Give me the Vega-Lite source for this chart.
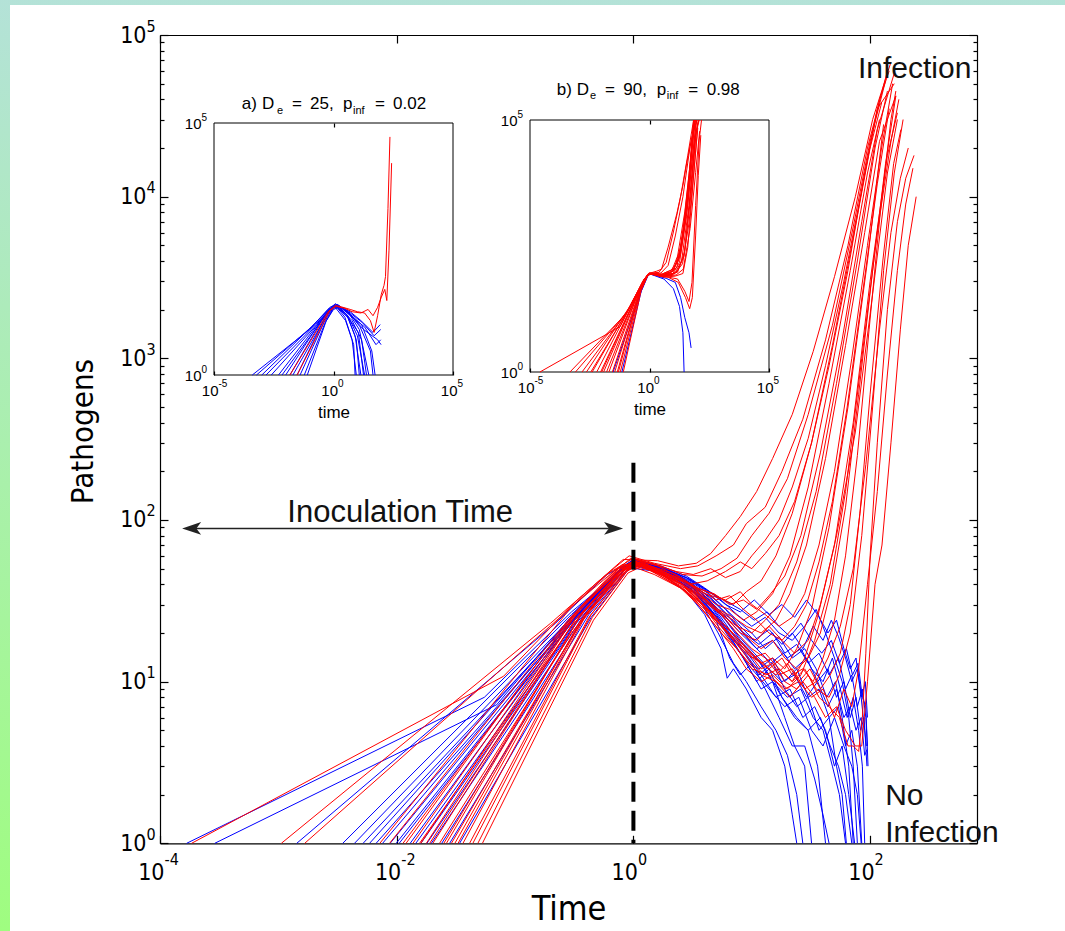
{
"$schema":"https://vega.github.io/schema/vega-lite/v6.json",
"width":1065,"height":936,
"autosize":{"type":"none"},
"padding":{"left":0,"top":-5,"right":0,"bottom":0},
"background":"white",
"view":{"fill":null,"stroke":{"gradient":"linear","x1":0,"y1":0,"x2":0,"y2":1,"stops":[{"offset":0,"color":"#b4e2d8"},{"offset":1,"color":"#9ffd80"}]},"strokeWidth":20,"strokeDash":[1065,2001,936]},
"config":{"axis":{"grid":false,"domainColor":"#000","tickColor":"#000","labelColor":"#000","titleColor":"#000","titleFontWeight":"normal","labelFlush":false,"labelOverlap":false,"labelFont":"Liberation Sans Narrow, DejaVu Sans Condensed, Liberation Sans, sans-serif","titleFont":"Liberation Sans Narrow, DejaVu Sans Condensed, Liberation Sans, sans-serif","domainWidth":1.2,"tickWidth":1.2}},
"datasets":{
"mb":[
{"c":1,"t":0.000168,"p":1},{"c":1,"t":0.055,"p":8},{"c":1,"t":0.3,"p":27},{"c":1,"t":0.85,"p":51},{"c":1,"t":1.6,"p":48},{"c":1,"t":2.6,"p":40},{"c":1,"t":3.8,"p":30},{"c":1,"t":5.2,"p":20},{"c":1,"t":7,"p":13},{"c":1,"t":9,"p":10},{"c":1,"t":12,"p":7},{"c":1,"t":16,"p":5},{"c":1,"t":20,"p":3.5},{"c":1,"t":24,"p":2},{"c":1,"t":27,"p":1},
{"c":2,"t":0.00029,"p":1},{"c":2,"t":0.07,"p":7.2},{"c":2,"t":0.35,"p":29},{"c":2,"t":0.9,"p":54},{"c":2,"t":1.7,"p":47},{"c":2,"t":2.8,"p":36},{"c":2,"t":4,"p":26},{"c":2,"t":5.5,"p":16},{"c":2,"t":6.2,"p":10.5},{"c":2,"t":7,"p":12},{"c":2,"t":9,"p":9},{"c":2,"t":12,"p":6},{"c":2,"t":15,"p":5},{"c":2,"t":19,"p":3},{"c":2,"t":22,"p":1.5},{"c":2,"t":24,"p":1},
{"c":3,"t":0.00143,"p":1},{"c":3,"t":0.22,"p":23},{"c":3,"t":0.6,"p":46},{"c":3,"t":1,"p":56},{"c":3,"t":1.9,"p":50},{"c":3,"t":3.2,"p":40},{"c":3,"t":4.6,"p":30},{"c":3,"t":6.5,"p":21},{"c":3,"t":9,"p":16},{"c":3,"t":13,"p":12},{"c":3,"t":18,"p":8},{"c":3,"t":24,"p":6},{"c":3,"t":30,"p":5},{"c":3,"t":36,"p":3},{"c":3,"t":42,"p":1},
{"c":4,"t":0.0044,"p":1},{"c":4,"t":0.35,"p":28},{"c":4,"t":0.8,"p":50},{"c":4,"t":1.1,"p":55},{"c":4,"t":2,"p":47},{"c":4,"t":3.5,"p":34},{"c":4,"t":5,"p":24},{"c":4,"t":6.5,"p":14},{"c":4,"t":8,"p":11},{"c":4,"t":10,"p":13},{"c":4,"t":13,"p":9},{"c":4,"t":17,"p":6},{"c":4,"t":22,"p":4},{"c":4,"t":28,"p":4},{"c":4,"t":34,"p":2.5},{"c":4,"t":40,"p":1.5},{"c":4,"t":45,"p":1},
{"c":5,"t":0.0052,"p":1},{"c":5,"t":0.3,"p":24},{"c":5,"t":0.75,"p":48},{"c":5,"t":1.05,"p":55},{"c":5,"t":1.8,"p":49},{"c":5,"t":3,"p":40},{"c":5,"t":4.4,"p":31},{"c":5,"t":6,"p":24},{"c":5,"t":8,"p":18},{"c":5,"t":11,"p":14},{"c":5,"t":15,"p":10},{"c":5,"t":20,"p":8},{"c":5,"t":26,"p":9},{"c":5,"t":33,"p":6},{"c":5,"t":40,"p":5},{"c":5,"t":48,"p":3},{"c":5,"t":55,"p":2},{"c":5,"t":62,"p":1},
{"c":6,"t":0.0059,"p":1},{"c":6,"t":0.32,"p":26},{"c":6,"t":0.8,"p":51},{"c":6,"t":1,"p":57},{"c":6,"t":1.7,"p":52},{"c":6,"t":2.8,"p":45},{"c":6,"t":4,"p":38},{"c":6,"t":5.5,"p":32},{"c":6,"t":7.5,"p":26},{"c":6,"t":10,"p":22},{"c":6,"t":13,"p":25},{"c":6,"t":17,"p":20},{"c":6,"t":22,"p":18},{"c":6,"t":28,"p":22},{"c":6,"t":35,"p":28},{"c":6,"t":42,"p":20},{"c":6,"t":50,"p":14},{"c":6,"t":58,"p":10},{"c":6,"t":66,"p":6},{"c":6,"t":72,"p":3},{"c":6,"t":78,"p":1},
{"c":7,"t":0.0076,"p":1},{"c":7,"t":0.36,"p":28},{"c":7,"t":0.85,"p":52},{"c":7,"t":1.1,"p":56},{"c":7,"t":1.8,"p":48},{"c":7,"t":3,"p":38},{"c":7,"t":4.5,"p":28},{"c":7,"t":6.2,"p":20},{"c":7,"t":8.5,"p":14},{"c":7,"t":11,"p":10},{"c":7,"t":14,"p":12},{"c":7,"t":18,"p":8},{"c":7,"t":23,"p":6},{"c":7,"t":30,"p":5},{"c":7,"t":38,"p":6},{"c":7,"t":46,"p":4},{"c":7,"t":54,"p":3},{"c":7,"t":62,"p":2},{"c":7,"t":70,"p":1},
{"c":8,"t":0.0099,"p":1},{"c":8,"t":0.3,"p":23},{"c":8,"t":0.75,"p":47},{"c":8,"t":1,"p":55},{"c":8,"t":1.7,"p":50},{"c":8,"t":2.8,"p":42},{"c":8,"t":4,"p":34},{"c":8,"t":5.8,"p":26},{"c":8,"t":8,"p":20},{"c":8,"t":11,"p":16},{"c":8,"t":15,"p":18},{"c":8,"t":20,"p":14},{"c":8,"t":26,"p":16},{"c":8,"t":32,"p":12},{"c":8,"t":40,"p":10},{"c":8,"t":48,"p":14},{"c":8,"t":56,"p":9},{"c":8,"t":64,"p":6},{"c":8,"t":72,"p":8},{"c":8,"t":80,"p":5},{"c":8,"t":86,"p":3},{"c":8,"t":90,"p":1},
{"c":9,"t":0.0105,"p":1},{"c":9,"t":0.34,"p":26},{"c":9,"t":0.82,"p":50},{"c":9,"t":1.08,"p":56},{"c":9,"t":1.9,"p":49},{"c":9,"t":3.2,"p":38},{"c":9,"t":4.8,"p":26},{"c":9,"t":7,"p":17},{"c":9,"t":10,"p":12},{"c":9,"t":14,"p":9},{"c":9,"t":19,"p":7},{"c":9,"t":25,"p":8},{"c":9,"t":32,"p":5},{"c":9,"t":40,"p":4},{"c":9,"t":50,"p":6},{"c":9,"t":60,"p":4},{"c":9,"t":70,"p":3},{"c":9,"t":78,"p":2},{"c":9,"t":84,"p":1},
{"c":10,"t":0.0145,"p":1},{"c":10,"t":0.36,"p":26},{"c":10,"t":0.82,"p":50},{"c":10,"t":1.05,"p":55},{"c":10,"t":1.8,"p":50},{"c":10,"t":3,"p":43},{"c":10,"t":4.4,"p":36},{"c":10,"t":6,"p":30},{"c":10,"t":8,"p":27},{"c":10,"t":10.5,"p":32},{"c":10,"t":14,"p":26},{"c":10,"t":18,"p":30},{"c":10,"t":23,"p":25},{"c":10,"t":29,"p":32},{"c":10,"t":36,"p":26},{"c":10,"t":44,"p":20},{"c":10,"t":52,"p":24},{"c":10,"t":60,"p":16},{"c":10,"t":68,"p":12},{"c":10,"t":76,"p":14},{"c":10,"t":84,"p":8},{"c":10,"t":90,"p":5},{"c":10,"t":93,"p":4},
{"c":11,"t":0.016,"p":1},{"c":11,"t":0.38,"p":27},{"c":11,"t":0.85,"p":50},{"c":11,"t":1.1,"p":54},{"c":11,"t":1.9,"p":46},{"c":11,"t":3.2,"p":36},{"c":11,"t":4.6,"p":27},{"c":11,"t":6.4,"p":21},{"c":11,"t":8.6,"p":16},{"c":11,"t":11.5,"p":12},{"c":11,"t":15,"p":14},{"c":11,"t":19,"p":10},{"c":11,"t":24,"p":12},{"c":11,"t":30,"p":8},{"c":11,"t":37,"p":9},{"c":11,"t":45,"p":6},{"c":11,"t":54,"p":7},{"c":11,"t":62,"p":4},{"c":11,"t":70,"p":5},{"c":11,"t":78,"p":3},{"c":11,"t":85,"p":1},
{"c":12,"t":0.0196,"p":1},{"c":12,"t":0.4,"p":27},{"c":12,"t":0.88,"p":51},{"c":12,"t":1.12,"p":55},{"c":12,"t":2,"p":47},{"c":12,"t":3.3,"p":37},{"c":12,"t":4.8,"p":28},{"c":12,"t":6.5,"p":20},{"c":12,"t":8.8,"p":15},{"c":12,"t":12,"p":11},{"c":12,"t":16,"p":8},{"c":12,"t":21,"p":9},{"c":12,"t":27,"p":6},{"c":12,"t":34,"p":7},{"c":12,"t":42,"p":5},{"c":12,"t":50,"p":3},{"c":12,"t":58,"p":4},{"c":12,"t":66,"p":2},{"c":12,"t":74,"p":1},
{"c":13,"t":0.028,"p":1},{"c":13,"t":0.42,"p":26},{"c":13,"t":0.9,"p":50},{"c":13,"t":1.15,"p":54},{"c":13,"t":2,"p":48},{"c":13,"t":3.2,"p":40},{"c":13,"t":4.6,"p":32},{"c":13,"t":6.4,"p":25},{"c":13,"t":8.6,"p":20},{"c":13,"t":11.5,"p":17},{"c":13,"t":15,"p":20},{"c":13,"t":19,"p":15},{"c":13,"t":24,"p":17},{"c":13,"t":30,"p":13},{"c":13,"t":37,"p":15},{"c":13,"t":45,"p":11},{"c":13,"t":54,"p":14},{"c":13,"t":62,"p":9},{"c":13,"t":70,"p":11},{"c":13,"t":78,"p":7},{"c":13,"t":86,"p":9},{"c":13,"t":92,"p":6},{"c":13,"t":95,"p":4},
{"c":14,"t":0.0088,"p":1},{"c":14,"t":0.32,"p":25},{"c":14,"t":0.78,"p":49},{"c":14,"t":1.02,"p":55},{"c":14,"t":1.7,"p":51},{"c":14,"t":2.8,"p":44},{"c":14,"t":4,"p":37},{"c":14,"t":5.5,"p":30},{"c":14,"t":7.5,"p":24},{"c":14,"t":10,"p":20},{"c":14,"t":13,"p":16},{"c":14,"t":17,"p":19},{"c":14,"t":22,"p":14},{"c":14,"t":28,"p":16},{"c":14,"t":35,"p":12},{"c":14,"t":43,"p":8},{"c":14,"t":51,"p":10},{"c":14,"t":58,"p":6},{"c":14,"t":66,"p":3},{"c":14,"t":72,"p":1},
{"c":15,"t":0.013,"p":1},{"c":15,"t":0.35,"p":27},{"c":15,"t":0.8,"p":51},{"c":15,"t":1.1,"p":56},{"c":15,"t":1.8,"p":49},{"c":15,"t":2.9,"p":41},{"c":15,"t":4.2,"p":33},{"c":15,"t":5.8,"p":25},{"c":15,"t":7.8,"p":19},{"c":15,"t":10.5,"p":15},{"c":15,"t":14,"p":12},{"c":15,"t":18,"p":10},{"c":15,"t":23,"p":11},{"c":15,"t":29,"p":8},{"c":15,"t":36,"p":10},{"c":15,"t":44,"p":7},{"c":15,"t":52,"p":9},{"c":15,"t":60,"p":6},{"c":15,"t":68,"p":7},{"c":15,"t":76,"p":5},{"c":15,"t":84,"p":6},{"c":15,"t":90,"p":3.5},{"c":15,"t":94,"p":3.8},
{"c":16,"t":0.018,"p":1},{"c":16,"t":0.33,"p":23},{"c":16,"t":0.77,"p":48},{"c":16,"t":1.03,"p":55},{"c":16,"t":1.8,"p":50},{"c":16,"t":3,"p":42},{"c":16,"t":4.3,"p":35},{"c":16,"t":6,"p":28},{"c":16,"t":8,"p":22},{"c":16,"t":10.5,"p":18},{"c":16,"t":14,"p":21},{"c":16,"t":18,"p":17},{"c":16,"t":22,"p":20},{"c":16,"t":27,"p":16},{"c":16,"t":33,"p":22},{"c":16,"t":40,"p":18},{"c":16,"t":47,"p":24},{"c":16,"t":54,"p":19},{"c":16,"t":62,"p":14},{"c":16,"t":70,"p":10},{"c":16,"t":78,"p":12},{"c":16,"t":85,"p":8},{"c":16,"t":91,"p":10},{"c":16,"t":95,"p":6},
{"c":17,"t":0.0035,"p":1},{"c":17,"t":0.3,"p":26},{"c":17,"t":0.78,"p":50},{"c":17,"t":1.05,"p":56},{"c":17,"t":1.9,"p":49},{"c":17,"t":3.2,"p":38},{"c":17,"t":4.7,"p":28},{"c":17,"t":6.6,"p":19},{"c":17,"t":9,"p":13},{"c":17,"t":12,"p":9},{"c":17,"t":15,"p":10},{"c":17,"t":19,"p":6},{"c":17,"t":23,"p":4},{"c":17,"t":28,"p":3},{"c":17,"t":32,"p":1},
{"c":18,"t":0.024,"p":1},{"c":18,"t":0.4,"p":26},{"c":18,"t":0.86,"p":50},{"c":18,"t":1.1,"p":55},{"c":18,"t":1.9,"p":48},{"c":18,"t":3.1,"p":40},{"c":18,"t":4.5,"p":33},{"c":18,"t":6.2,"p":26},{"c":18,"t":8.4,"p":20},{"c":18,"t":11,"p":16},{"c":18,"t":14.5,"p":13},{"c":18,"t":18.5,"p":15},{"c":18,"t":23,"p":12},{"c":18,"t":29,"p":14},{"c":18,"t":36,"p":10},{"c":18,"t":44,"p":12},{"c":18,"t":52,"p":8},{"c":18,"t":60,"p":10},{"c":18,"t":68,"p":6},{"c":18,"t":76,"p":8},{"c":18,"t":83,"p":5},{"c":18,"t":89,"p":6},{"c":18,"t":94,"p":3},
{"c":19,"t":0.0067,"p":1},{"c":19,"t":0.28,"p":22},{"c":19,"t":0.72,"p":47},{"c":19,"t":0.98,"p":56},{"c":19,"t":1.7,"p":51},{"c":19,"t":2.8,"p":44},{"c":19,"t":4.1,"p":37},{"c":19,"t":5.8,"p":32},{"c":19,"t":8,"p":28},{"c":19,"t":10.5,"p":24},{"c":19,"t":13.5,"p":27},{"c":19,"t":17,"p":22},{"c":19,"t":21,"p":19},{"c":19,"t":26,"p":23},{"c":19,"t":32,"p":18},{"c":19,"t":39,"p":15},{"c":19,"t":47,"p":18},{"c":19,"t":55,"p":13},{"c":19,"t":63,"p":16},{"c":19,"t":71,"p":11},{"c":19,"t":79,"p":13},{"c":19,"t":86,"p":8},{"c":19,"t":92,"p":7},{"c":19,"t":96,"p":3},
{"c":20,"t":0.034,"p":1},{"c":20,"t":0.44,"p":25},{"c":20,"t":0.9,"p":49},{"c":20,"t":1.15,"p":53},{"c":20,"t":2,"p":46},{"c":20,"t":3.3,"p":36},{"c":20,"t":4.7,"p":27},{"c":20,"t":6.4,"p":20},{"c":20,"t":8.6,"p":15},{"c":20,"t":11.5,"p":11},{"c":20,"t":15,"p":13},{"c":20,"t":19,"p":9},{"c":20,"t":24,"p":7},{"c":20,"t":30,"p":8},{"c":20,"t":37,"p":5},{"c":20,"t":45,"p":6},{"c":20,"t":52,"p":3},{"c":20,"t":58,"p":2},{"c":20,"t":63,"p":1}
],
"mr":[
{"c":1,"t":0.000185,"p":1},{"c":1,"t":0.08,"p":10.8},{"c":1,"t":0.32,"p":31},{"c":1,"t":0.82,"p":57},{"c":1,"t":1.6,"p":56},{"c":1,"t":2.4,"p":52},{"c":1,"t":3.4,"p":54},{"c":1,"t":4.5,"p":62},{"c":1,"t":6,"p":80},{"c":1,"t":8,"p":105},{"c":1,"t":11,"p":150},{"c":1,"t":15,"p":240},{"c":1,"t":22,"p":450},{"c":1,"t":33,"p":1100},{"c":1,"t":50,"p":3200},{"c":1,"t":75,"p":10000},{"c":1,"t":105,"p":30000},{"c":1,"t":150,"p":68000},
{"c":2,"t":0.00106,"p":1},{"c":2,"t":0.2,"p":23},{"c":2,"t":0.55,"p":44},{"c":2,"t":0.92,"p":60},{"c":2,"t":1.5,"p":54},{"c":2,"t":2.5,"p":50},{"c":2,"t":3.5,"p":52},{"c":2,"t":5,"p":60},{"c":2,"t":7,"p":70},{"c":2,"t":9,"p":95},{"c":2,"t":13,"p":120},{"c":2,"t":18,"p":200},{"c":2,"t":27,"p":420},{"c":2,"t":42,"p":1300},{"c":2,"t":65,"p":5000},{"c":2,"t":95,"p":20000},{"c":2,"t":140,"p":60000},
{"c":3,"t":0.00167,"p":1},{"c":3,"t":0.24,"p":25},{"c":3,"t":0.62,"p":47},{"c":3,"t":1,"p":58},{"c":3,"t":1.7,"p":52},{"c":3,"t":2.6,"p":46},{"c":3,"t":3.8,"p":45},{"c":3,"t":5.5,"p":50},{"c":3,"t":7.5,"p":58},{"c":3,"t":10,"p":80},{"c":3,"t":14,"p":110},{"c":3,"t":20,"p":180},{"c":3,"t":30,"p":450},{"c":3,"t":48,"p":1600},{"c":3,"t":72,"p":6500},{"c":3,"t":100,"p":22000},{"c":3,"t":135,"p":52000},
{"c":4,"t":0.0072,"p":1},{"c":4,"t":0.3,"p":29},{"c":4,"t":0.75,"p":51},{"c":4,"t":1.1,"p":56},{"c":4,"t":1.6,"p":52},{"c":4,"t":2.5,"p":44},{"c":4,"t":3.5,"p":38},{"c":4,"t":5,"p":34},{"c":4,"t":7,"p":30},{"c":4,"t":9,"p":36},{"c":4,"t":12,"p":42},{"c":4,"t":16,"p":60},{"c":4,"t":22,"p":110},{"c":4,"t":32,"p":300},{"c":4,"t":48,"p":1200},{"c":4,"t":70,"p":5000},{"c":4,"t":100,"p":20000},{"c":4,"t":125,"p":38000},
{"c":5,"t":0.0087,"p":1},{"c":5,"t":0.28,"p":24},{"c":5,"t":0.7,"p":49},{"c":5,"t":1,"p":55},{"c":5,"t":1.5,"p":50},{"c":5,"t":2.4,"p":44},{"c":5,"t":3.6,"p":36},{"c":5,"t":5,"p":30},{"c":5,"t":6.5,"p":28},{"c":5,"t":8.5,"p":24},{"c":5,"t":11,"p":27},{"c":5,"t":15,"p":35},{"c":5,"t":21,"p":60},{"c":5,"t":30,"p":160},{"c":5,"t":45,"p":700},{"c":5,"t":68,"p":3500},{"c":5,"t":95,"p":14000},{"c":5,"t":120,"p":30000},
{"c":6,"t":0.0113,"p":1},{"c":6,"t":0.3,"p":25},{"c":6,"t":0.8,"p":53},{"c":6,"t":1.2,"p":52},{"c":6,"t":1.6,"p":48},{"c":6,"t":2.6,"p":40},{"c":6,"t":4,"p":32},{"c":6,"t":5.5,"p":26},{"c":6,"t":7.5,"p":22},{"c":6,"t":10,"p":20},{"c":6,"t":13,"p":24},{"c":6,"t":17,"p":30},{"c":6,"t":24,"p":55},{"c":6,"t":35,"p":150},{"c":6,"t":52,"p":700},{"c":6,"t":78,"p":4000},{"c":6,"t":110,"p":20000},{"c":6,"t":140,"p":45000},
{"c":7,"t":0.0137,"p":1},{"c":7,"t":0.33,"p":27},{"c":7,"t":0.78,"p":50},{"c":7,"t":1.05,"p":57},{"c":7,"t":1.4,"p":52},{"c":7,"t":2.3,"p":46},{"c":7,"t":3.4,"p":38},{"c":7,"t":4.8,"p":35},{"c":7,"t":6.5,"p":30},{"c":7,"t":8.5,"p":32},{"c":7,"t":11,"p":28},{"c":7,"t":14,"p":34},{"c":7,"t":19,"p":45},{"c":7,"t":26,"p":80},{"c":7,"t":38,"p":260},{"c":7,"t":58,"p":1300},{"c":7,"t":85,"p":7000},{"c":7,"t":115,"p":26000},{"c":7,"t":160,"p":58000},
{"c":8,"t":0.0156,"p":1},{"c":8,"t":0.3,"p":22},{"c":8,"t":0.72,"p":46},{"c":8,"t":0.95,"p":54},{"c":8,"t":1.5,"p":50},{"c":8,"t":2.5,"p":42},{"c":8,"t":3.8,"p":34},{"c":8,"t":5.2,"p":28},{"c":8,"t":7,"p":25},{"c":8,"t":9,"p":22},{"c":8,"t":12,"p":20},{"c":8,"t":16,"p":24},{"c":8,"t":21,"p":35},{"c":8,"t":29,"p":70},{"c":8,"t":42,"p":240},{"c":8,"t":62,"p":1200},{"c":8,"t":90,"p":6000},{"c":8,"t":120,"p":22000},{"c":8,"t":165,"p":42000},
{"c":9,"t":0.0178,"p":1},{"c":9,"t":0.35,"p":28},{"c":9,"t":0.8,"p":50},{"c":9,"t":1.1,"p":55},{"c":9,"t":1.5,"p":50},{"c":9,"t":2.4,"p":42},{"c":9,"t":3.5,"p":33},{"c":9,"t":5,"p":24},{"c":9,"t":7,"p":18},{"c":9,"t":9,"p":15},{"c":9,"t":12,"p":13},{"c":9,"t":15,"p":14},{"c":9,"t":19,"p":12},{"c":9,"t":24,"p":16},{"c":9,"t":32,"p":28},{"c":9,"t":45,"p":90},{"c":9,"t":65,"p":500},{"c":9,"t":95,"p":4000},{"c":9,"t":130,"p":28000},
{"c":10,"t":0.0202,"p":1},{"c":10,"t":0.32,"p":24},{"c":10,"t":0.75,"p":47},{"c":10,"t":1,"p":56},{"c":10,"t":1.6,"p":48},{"c":10,"t":2.6,"p":40},{"c":10,"t":3.8,"p":30},{"c":10,"t":5.5,"p":22},{"c":10,"t":7.5,"p":17},{"c":10,"t":10,"p":13},{"c":10,"t":13,"p":11},{"c":10,"t":17,"p":12},{"c":10,"t":22,"p":10},{"c":10,"t":28,"p":14},{"c":10,"t":36,"p":25},{"c":10,"t":50,"p":70},{"c":10,"t":72,"p":400},{"c":10,"t":100,"p":3000},{"c":10,"t":140,"p":18000},{"c":10,"t":170,"p":33000},
{"c":11,"t":0.023,"p":1},{"c":11,"t":0.3,"p":20},{"c":11,"t":0.7,"p":44},{"c":11,"t":0.95,"p":52},{"c":11,"t":1.5,"p":46},{"c":11,"t":2.5,"p":38},{"c":11,"t":3.5,"p":30},{"c":11,"t":5,"p":22},{"c":11,"t":7,"p":16},{"c":11,"t":9,"p":12},{"c":11,"t":12,"p":10},{"c":11,"t":15,"p":11},{"c":11,"t":20,"p":9},{"c":11,"t":26,"p":11},{"c":11,"t":34,"p":18},{"c":11,"t":46,"p":40},{"c":11,"t":62,"p":150},{"c":11,"t":85,"p":1000},{"c":11,"t":115,"p":6000},{"c":11,"t":150,"p":22000},{"c":11,"t":175,"p":40000},
{"c":12,"t":0.0263,"p":1},{"c":12,"t":0.36,"p":26},{"c":12,"t":0.82,"p":50},{"c":12,"t":1.1,"p":54},{"c":12,"t":1.7,"p":47},{"c":12,"t":2.8,"p":41},{"c":12,"t":4,"p":35},{"c":12,"t":6,"p":32},{"c":12,"t":8,"p":36},{"c":12,"t":10,"p":30},{"c":12,"t":13,"p":26},{"c":12,"t":17,"p":22},{"c":12,"t":22,"p":25},{"c":12,"t":28,"p":35},{"c":12,"t":37,"p":70},{"c":12,"t":50,"p":200},{"c":12,"t":70,"p":1000},{"c":12,"t":95,"p":5000},{"c":12,"t":125,"p":20000},{"c":12,"t":155,"p":50000},
{"c":13,"t":0.029,"p":1},{"c":13,"t":0.34,"p":22},{"c":13,"t":0.76,"p":45},{"c":13,"t":1,"p":52},{"c":13,"t":1.5,"p":48},{"c":13,"t":2.2,"p":45},{"c":13,"t":3,"p":40},{"c":13,"t":4.2,"p":42},{"c":13,"t":6,"p":48},{"c":13,"t":8,"p":55},{"c":13,"t":10,"p":50},{"c":13,"t":13,"p":62},{"c":13,"t":17,"p":80},{"c":13,"t":23,"p":130},{"c":13,"t":32,"p":300},{"c":13,"t":45,"p":900},{"c":13,"t":65,"p":3500},{"c":13,"t":90,"p":14000},{"c":13,"t":120,"p":40000},{"c":13,"t":145,"p":60000},
{"c":14,"t":0.033,"p":1},{"c":14,"t":0.38,"p":25},{"c":14,"t":0.85,"p":50},{"c":14,"t":1.15,"p":55},{"c":14,"t":1.8,"p":48},{"c":14,"t":3,"p":40},{"c":14,"t":4.5,"p":30},{"c":14,"t":6,"p":25},{"c":14,"t":8,"p":20},{"c":14,"t":11,"p":18},{"c":14,"t":14,"p":22},{"c":14,"t":18,"p":18},{"c":14,"t":23,"p":15},{"c":14,"t":30,"p":18},{"c":14,"t":38,"p":30},{"c":14,"t":52,"p":80},{"c":14,"t":75,"p":350},{"c":14,"t":105,"p":2500},{"c":14,"t":140,"p":14000},{"c":14,"t":170,"p":30000},
{"c":15,"t":0.0363,"p":1},{"c":15,"t":0.4,"p":26},{"c":15,"t":0.85,"p":48},{"c":15,"t":1.1,"p":53},{"c":15,"t":1.6,"p":47},{"c":15,"t":2.6,"p":40},{"c":15,"t":3.8,"p":32},{"c":15,"t":5.5,"p":26},{"c":15,"t":7.5,"p":20},{"c":15,"t":10,"p":16},{"c":15,"t":13,"p":14},{"c":15,"t":17,"p":11},{"c":15,"t":22,"p":12},{"c":15,"t":28,"p":9},{"c":15,"t":35,"p":10},{"c":15,"t":44,"p":14},{"c":15,"t":56,"p":22},{"c":15,"t":72,"p":50},{"c":15,"t":92,"p":220},{"c":15,"t":120,"p":1500},{"c":15,"t":150,"p":6000},{"c":15,"t":180,"p":13000},{"c":15,"t":210,"p":20000},
{"c":16,"t":0.0413,"p":1},{"c":16,"t":0.42,"p":25},{"c":16,"t":0.9,"p":50},{"c":16,"t":1.2,"p":52},{"c":16,"t":1.8,"p":44},{"c":16,"t":2.8,"p":36},{"c":16,"t":4,"p":28},{"c":16,"t":5.5,"p":22},{"c":16,"t":7.5,"p":18},{"c":16,"t":10,"p":14},{"c":16,"t":13,"p":15},{"c":16,"t":17,"p":12},{"c":16,"t":22,"p":10},{"c":16,"t":28,"p":12},{"c":16,"t":35,"p":9},{"c":16,"t":45,"p":8},{"c":16,"t":55,"p":11},{"c":16,"t":68,"p":20},{"c":16,"t":85,"p":80},{"c":16,"t":105,"p":500},{"c":16,"t":130,"p":3500},{"c":16,"t":160,"p":14000},{"c":16,"t":190,"p":30000},
{"c":17,"t":0.0485,"p":1},{"c":17,"t":0.45,"p":25},{"c":17,"t":0.88,"p":48},{"c":17,"t":1.15,"p":54},{"c":17,"t":1.7,"p":46},{"c":17,"t":2.6,"p":38},{"c":17,"t":3.8,"p":30},{"c":17,"t":5.2,"p":22},{"c":17,"t":7,"p":17},{"c":17,"t":9.5,"p":13},{"c":17,"t":12,"p":11},{"c":17,"t":16,"p":10},{"c":17,"t":21,"p":8},{"c":17,"t":27,"p":10},{"c":17,"t":34,"p":8},{"c":17,"t":42,"p":6},{"c":17,"t":52,"p":7},{"c":17,"t":62,"p":5},{"c":17,"t":75,"p":4},{"c":17,"t":85,"p":4},{"c":17,"t":95,"p":10},{"c":17,"t":110,"p":40},{"c":17,"t":126,"p":70},{"c":17,"t":150,"p":300},{"c":17,"t":180,"p":1500},{"c":17,"t":210,"p":5000},{"c":17,"t":245,"p":10000},
{"c":18,"t":0.053,"p":1},{"c":18,"t":0.46,"p":24},{"c":18,"t":0.9,"p":47},{"c":18,"t":1.2,"p":52},{"c":18,"t":1.8,"p":45},{"c":18,"t":2.8,"p":36},{"c":18,"t":4,"p":27},{"c":18,"t":5.5,"p":20},{"c":18,"t":7.5,"p":16},{"c":18,"t":10,"p":12},{"c":18,"t":14,"p":11},{"c":18,"t":19,"p":9},{"c":18,"t":25,"p":10},{"c":18,"t":32,"p":8},{"c":18,"t":40,"p":9},{"c":18,"t":50,"p":6},{"c":18,"t":60,"p":9},{"c":18,"t":70,"p":7},{"c":18,"t":80,"p":12},{"c":18,"t":95,"p":40},{"c":18,"t":115,"p":150},{"c":18,"t":140,"p":800},{"c":18,"t":170,"p":3500},{"c":18,"t":200,"p":9000},{"c":18,"t":230,"p":15000},
{"c":19,"t":0.012,"p":1},{"c":19,"t":0.26,"p":22},{"c":19,"t":0.7,"p":48},{"c":19,"t":0.95,"p":58},{"c":19,"t":1.5,"p":53},{"c":19,"t":2.3,"p":48},{"c":19,"t":3.2,"p":46},{"c":19,"t":4.5,"p":50},{"c":19,"t":6,"p":44},{"c":19,"t":8,"p":48},{"c":19,"t":10,"p":60},{"c":19,"t":13,"p":75},{"c":19,"t":17,"p":100},{"c":19,"t":22,"p":160},{"c":19,"t":30,"p":320},{"c":19,"t":42,"p":900},{"c":19,"t":60,"p":3000},{"c":19,"t":85,"p":11000},{"c":19,"t":115,"p":35000},{"c":19,"t":160,"p":50000},
{"c":20,"t":0.016,"p":1},{"c":20,"t":0.3,"p":24},{"c":20,"t":0.72,"p":48},{"c":20,"t":1,"p":56},{"c":20,"t":1.6,"p":50},{"c":20,"t":2.5,"p":43},{"c":20,"t":3.6,"p":37},{"c":20,"t":5,"p":32},{"c":20,"t":6.5,"p":34},{"c":20,"t":8.5,"p":28},{"c":20,"t":11,"p":24},{"c":20,"t":14,"p":20},{"c":20,"t":18,"p":18},{"c":20,"t":23,"p":22},{"c":20,"t":29,"p":30},{"c":20,"t":37,"p":55},{"c":20,"t":48,"p":130},{"c":20,"t":64,"p":500},{"c":20,"t":88,"p":2800},{"c":20,"t":115,"p":12000},{"c":20,"t":145,"p":35000},
{"c":21,"t":0.019,"p":1},{"c":21,"t":0.32,"p":24},{"c":21,"t":0.74,"p":47},{"c":21,"t":1,"p":54},{"c":21,"t":1.5,"p":49},{"c":21,"t":2.4,"p":41},{"c":21,"t":3.5,"p":35},{"c":21,"t":5,"p":28},{"c":21,"t":7,"p":24},{"c":21,"t":9,"p":19},{"c":21,"t":12,"p":16},{"c":21,"t":15,"p":18},{"c":21,"t":19,"p":14},{"c":21,"t":24,"p":12},{"c":21,"t":30,"p":14},{"c":21,"t":38,"p":20},{"c":21,"t":48,"p":40},{"c":21,"t":62,"p":120},{"c":21,"t":80,"p":600},{"c":21,"t":105,"p":3500},{"c":21,"t":135,"p":16000},{"c":21,"t":165,"p":42000},
{"c":22,"t":0.025,"p":1},{"c":22,"t":0.35,"p":25},{"c":22,"t":0.78,"p":48},{"c":22,"t":1.05,"p":54},{"c":22,"t":1.6,"p":46},{"c":22,"t":2.5,"p":38},{"c":22,"t":3.6,"p":31},{"c":22,"t":5,"p":25},{"c":22,"t":6.8,"p":20},{"c":22,"t":9,"p":16},{"c":22,"t":12,"p":13},{"c":22,"t":16,"p":11},{"c":22,"t":20,"p":13},{"c":22,"t":25,"p":10},{"c":22,"t":31,"p":12},{"c":22,"t":38,"p":9},{"c":22,"t":46,"p":11},{"c":22,"t":56,"p":15},{"c":22,"t":68,"p":30},{"c":22,"t":82,"p":110},{"c":22,"t":100,"p":600},{"c":22,"t":128,"p":4000},{"c":22,"t":158,"p":16000},{"c":22,"t":182,"p":26000},
{"c":23,"t":0.031,"p":1},{"c":23,"t":0.37,"p":25},{"c":23,"t":0.8,"p":48},{"c":23,"t":1.05,"p":53},{"c":23,"t":1.6,"p":47},{"c":23,"t":2.5,"p":40},{"c":23,"t":3.6,"p":32},{"c":23,"t":5,"p":25},{"c":23,"t":6.5,"p":21},{"c":23,"t":8.5,"p":17},{"c":23,"t":11,"p":14},{"c":23,"t":14,"p":12},{"c":23,"t":18,"p":14},{"c":23,"t":22,"p":11},{"c":23,"t":27,"p":12},{"c":23,"t":33,"p":10},{"c":23,"t":40,"p":14},{"c":23,"t":50,"p":24},{"c":23,"t":62,"p":60},{"c":23,"t":78,"p":250},{"c":23,"t":98,"p":1500},{"c":23,"t":122,"p":8000},{"c":23,"t":150,"p":30000},{"c":23,"t":165,"p":45000},
{"c":24,"t":0.044,"p":1},{"c":24,"t":0.44,"p":26},{"c":24,"t":0.88,"p":49},{"c":24,"t":1.15,"p":53},{"c":24,"t":1.7,"p":46},{"c":24,"t":2.7,"p":38},{"c":24,"t":3.9,"p":30},{"c":24,"t":5.4,"p":23},{"c":24,"t":7.2,"p":18},{"c":24,"t":9.5,"p":15},{"c":24,"t":12,"p":12},{"c":24,"t":15,"p":13},{"c":24,"t":19,"p":10},{"c":24,"t":24,"p":9},{"c":24,"t":30,"p":11},{"c":24,"t":37,"p":8},{"c":24,"t":45,"p":7},{"c":24,"t":55,"p":6},{"c":24,"t":65,"p":4},{"c":24,"t":72,"p":4},{"c":24,"t":80,"p":3.7},{"c":24,"t":86,"p":6},{"c":24,"t":92,"p":15},{"c":24,"t":100,"p":60},{"c":24,"t":115,"p":300},{"c":24,"t":140,"p":2000},{"c":24,"t":170,"p":7000},{"c":24,"t":200,"p":13000},{"c":24,"t":235,"p":18000}
],
"ab":[
{"c":1,"t":0.0004,"p":1},{"c":1,"t":0.1,"p":8},{"c":1,"t":0.6,"p":20},{"c":1,"t":1.2,"p":24},{"c":1,"t":3,"p":14},{"c":1,"t":6,"p":5},{"c":1,"t":9,"p":1},
{"c":2,"t":0.001,"p":1},{"c":2,"t":0.15,"p":10},{"c":2,"t":0.7,"p":22},{"c":2,"t":1.3,"p":25},{"c":2,"t":3.5,"p":16},{"c":2,"t":8,"p":6},{"c":2,"t":14,"p":1},
{"c":3,"t":0.0025,"p":1},{"c":3,"t":0.2,"p":10},{"c":3,"t":0.8,"p":22},{"c":3,"t":1.2,"p":26},{"c":3,"t":4,"p":15},{"c":3,"t":10,"p":6},{"c":3,"t":20,"p":1},
{"c":4,"t":0.005,"p":1},{"c":4,"t":0.25,"p":11},{"c":4,"t":0.8,"p":21},{"c":4,"t":1.4,"p":24},{"c":4,"t":4,"p":18},{"c":4,"t":12,"p":8},{"c":4,"t":30,"p":1},
{"c":5,"t":0.01,"p":1},{"c":5,"t":0.3,"p":12},{"c":5,"t":0.9,"p":23},{"c":5,"t":1.5,"p":25},{"c":5,"t":5,"p":16},{"c":5,"t":15,"p":10},{"c":5,"t":40,"p":3},{"c":5,"t":55,"p":1},
{"c":6,"t":0.02,"p":1},{"c":6,"t":0.35,"p":11},{"c":6,"t":0.85,"p":21},{"c":6,"t":1.3,"p":23},{"c":6,"t":4.5,"p":13},{"c":6,"t":11,"p":7},{"c":6,"t":18,"p":1},
{"c":7,"t":0.04,"p":1},{"c":7,"t":0.4,"p":11},{"c":7,"t":1,"p":22},{"c":7,"t":1.6,"p":24},{"c":7,"t":5,"p":17},{"c":7,"t":16,"p":11},{"c":7,"t":50,"p":6},{"c":7,"t":95,"p":8},
{"c":8,"t":0.08,"p":1},{"c":8,"t":0.5,"p":12},{"c":8,"t":1,"p":21},{"c":8,"t":1.8,"p":23},{"c":8,"t":6,"p":14},{"c":8,"t":20,"p":9},{"c":8,"t":60,"p":4},{"c":8,"t":95,"p":5},
{"c":9,"t":0.0015,"p":1},{"c":9,"t":0.18,"p":10},{"c":9,"t":0.75,"p":21},{"c":9,"t":1.25,"p":24},{"c":9,"t":3.8,"p":15},{"c":9,"t":9,"p":5},{"c":9,"t":12,"p":1},
{"c":10,"t":0.007,"p":1},{"c":10,"t":0.28,"p":11},{"c":10,"t":0.85,"p":22},{"c":10,"t":1.4,"p":25},{"c":10,"t":4.5,"p":17},{"c":10,"t":13,"p":9},{"c":10,"t":35,"p":3},{"c":10,"t":45,"p":1},
{"c":11,"t":0.03,"p":1},{"c":11,"t":0.38,"p":12},{"c":11,"t":0.95,"p":22},{"c":11,"t":1.5,"p":24},{"c":11,"t":5.5,"p":15},{"c":11,"t":18,"p":8},{"c":11,"t":70,"p":5},{"c":11,"t":98,"p":4},
{"c":12,"t":0.06,"p":1},{"c":12,"t":0.45,"p":11},{"c":12,"t":1,"p":20},{"c":12,"t":1.7,"p":22},{"c":12,"t":6,"p":12},{"c":12,"t":15,"p":5},{"c":12,"t":24,"p":1},
{"c":13,"t":0.0006,"p":1},{"c":13,"t":0.12,"p":9},{"c":13,"t":0.65,"p":20},{"c":13,"t":1.1,"p":23},{"c":13,"t":3.2,"p":12},{"c":13,"t":7,"p":4},{"c":13,"t":8,"p":1},
{"c":14,"t":0.015,"p":1},{"c":14,"t":0.32,"p":12},{"c":14,"t":0.9,"p":22},{"c":14,"t":1.45,"p":24},{"c":14,"t":5,"p":18},{"c":14,"t":14,"p":12},{"c":14,"t":45,"p":7},{"c":14,"t":90,"p":10}
],
"ar":[
{"c":1,"t":0.015,"p":1},{"c":1,"t":0.6,"p":18},{"c":1,"t":1.2,"p":24},{"c":1,"t":2.5,"p":22},{"c":1,"t":5,"p":20},{"c":1,"t":10,"p":18},{"c":1,"t":20,"p":17},{"c":1,"t":35,"p":12},{"c":1,"t":50,"p":7},{"c":1,"t":70,"p":15},{"c":1,"t":100,"p":40},{"c":1,"t":130,"p":60},{"c":1,"t":150,"p":90},{"c":1,"t":190,"p":2000},{"c":1,"t":230,"p":53000},
{"c":2,"t":0.03,"p":1},{"c":2,"t":0.7,"p":19},{"c":2,"t":1.3,"p":23},{"c":2,"t":3,"p":21},{"c":2,"t":6,"p":18},{"c":2,"t":14,"p":17},{"c":2,"t":28,"p":20},{"c":2,"t":45,"p":15},{"c":2,"t":70,"p":22},{"c":2,"t":100,"p":35},{"c":2,"t":140,"p":50},{"c":2,"t":170,"p":30},{"c":2,"t":210,"p":300},{"c":2,"t":270,"p":16000}
],
"br":[
{"c":1,"t":0.000026,"p":1},{"c":1,"t":0.06,"p":8},{"c":1,"t":0.5,"p":60},{"c":1,"t":0.9,"p":90},{"c":1,"t":3,"p":85},{"c":1,"t":10,"p":100},{"c":1,"t":20,"p":300},{"c":1,"t":40,"p":3000},{"c":1,"t":70,"p":100000},
{"c":2,"t":0.00047,"p":1},{"c":2,"t":0.1,"p":14},{"c":2,"t":0.55,"p":65},{"c":2,"t":0.95,"p":92},{"c":2,"t":3,"p":80},{"c":2,"t":8,"p":95},{"c":2,"t":15,"p":200},{"c":2,"t":30,"p":1500},{"c":2,"t":55,"p":20000},{"c":2,"t":75,"p":100000},
{"c":3,"t":0.0023,"p":1},{"c":3,"t":0.15,"p":20},{"c":3,"t":0.6,"p":70},{"c":3,"t":0.9,"p":88},{"c":3,"t":2.5,"p":82},{"c":3,"t":7,"p":90},{"c":3,"t":14,"p":120},{"c":3,"t":25,"p":600},{"c":3,"t":45,"p":8000},{"c":3,"t":68,"p":80000},
{"c":4,"t":0.0062,"p":1},{"c":4,"t":0.2,"p":25},{"c":4,"t":0.65,"p":72},{"c":4,"t":1,"p":90},{"c":4,"t":3,"p":78},{"c":4,"t":9,"p":85},{"c":4,"t":18,"p":150},{"c":4,"t":35,"p":1200},{"c":4,"t":60,"p":15000},{"c":4,"t":90,"p":100000},
{"c":5,"t":0.012,"p":1},{"c":5,"t":0.25,"p":28},{"c":5,"t":0.7,"p":75},{"c":5,"t":1,"p":92},{"c":5,"t":3.5,"p":84},{"c":5,"t":10,"p":100},{"c":5,"t":20,"p":250},{"c":5,"t":38,"p":2500},{"c":5,"t":62,"p":30000},{"c":5,"t":80,"p":100000},
{"c":6,"t":0.02,"p":1},{"c":6,"t":0.3,"p":32},{"c":6,"t":0.72,"p":76},{"c":6,"t":1.05,"p":90},{"c":6,"t":4,"p":80},{"c":6,"t":11,"p":88},{"c":6,"t":22,"p":160},{"c":6,"t":45,"p":2000},{"c":6,"t":80,"p":40000},{"c":6,"t":110,"p":100000},
{"c":7,"t":0.035,"p":1},{"c":7,"t":0.35,"p":35},{"c":7,"t":0.75,"p":78},{"c":7,"t":1,"p":91},{"c":7,"t":4,"p":76},{"c":7,"t":12,"p":80},{"c":7,"t":25,"p":90},{"c":7,"t":40,"p":300},{"c":7,"t":65,"p":5000},{"c":7,"t":100,"p":60000},
{"c":8,"t":0.05,"p":1},{"c":8,"t":0.4,"p":40},{"c":8,"t":0.8,"p":80},{"c":8,"t":1.05,"p":90},{"c":8,"t":5,"p":82},{"c":8,"t":14,"p":95},{"c":8,"t":28,"p":200},{"c":8,"t":50,"p":3000},{"c":8,"t":85,"p":50000},{"c":8,"t":120,"p":100000},
{"c":9,"t":0.08,"p":1},{"c":9,"t":0.45,"p":42},{"c":9,"t":0.85,"p":82},{"c":9,"t":1.1,"p":89},{"c":9,"t":5,"p":78},{"c":9,"t":15,"p":70},{"c":9,"t":30,"p":40},{"c":9,"t":45,"p":25},{"c":9,"t":60,"p":60},{"c":9,"t":85,"p":2000},{"c":9,"t":120,"p":40000},{"c":9,"t":150,"p":100000},
{"c":10,"t":0.0035,"p":1},{"c":10,"t":0.18,"p":22},{"c":10,"t":0.62,"p":70},{"c":10,"t":0.95,"p":90},{"c":10,"t":3,"p":86},{"c":10,"t":8,"p":105},{"c":10,"t":16,"p":160},{"c":10,"t":30,"p":900},{"c":10,"t":50,"p":10000},{"c":10,"t":72,"p":100000},
{"c":11,"t":0.009,"p":1},{"c":11,"t":0.22,"p":25},{"c":11,"t":0.68,"p":74},{"c":11,"t":1,"p":91},{"c":11,"t":3.5,"p":88},{"c":11,"t":10,"p":110},{"c":11,"t":20,"p":220},{"c":11,"t":40,"p":2000},{"c":11,"t":70,"p":30000},{"c":11,"t":95,"p":100000},
{"c":12,"t":0.016,"p":1},{"c":12,"t":0.28,"p":30},{"c":12,"t":0.72,"p":76},{"c":12,"t":1.02,"p":90},{"c":12,"t":4,"p":84},{"c":12,"t":12,"p":92},{"c":12,"t":24,"p":140},{"c":12,"t":45,"p":900},{"c":12,"t":75,"p":12000},{"c":12,"t":105,"p":70000},
{"c":13,"t":0.028,"p":1},{"c":13,"t":0.33,"p":33},{"c":13,"t":0.75,"p":77},{"c":13,"t":1.05,"p":89},{"c":13,"t":4.5,"p":80},{"c":13,"t":13,"p":84},{"c":13,"t":26,"p":110},{"c":13,"t":50,"p":700},{"c":13,"t":85,"p":9000},{"c":13,"t":125,"p":60000},
{"c":14,"t":0.06,"p":1},{"c":14,"t":0.42,"p":40},{"c":14,"t":0.82,"p":80},{"c":14,"t":1.1,"p":88},{"c":14,"t":6,"p":76},{"c":14,"t":16,"p":60},{"c":14,"t":32,"p":30},{"c":14,"t":48,"p":18},{"c":14,"t":62,"p":30},{"c":14,"t":85,"p":500},{"c":14,"t":110,"p":8000},{"c":14,"t":140,"p":50000},
{"c":15,"t":0.0008,"p":1},{"c":15,"t":0.12,"p":16},{"c":15,"t":0.58,"p":66},{"c":15,"t":0.92,"p":90},{"c":15,"t":3,"p":83},{"c":15,"t":9,"p":100},{"c":15,"t":18,"p":180},{"c":15,"t":35,"p":1800},{"c":15,"t":60,"p":25000},{"c":15,"t":82,"p":100000},
{"c":16,"t":0.045,"p":1},{"c":16,"t":0.38,"p":37},{"c":16,"t":0.78,"p":79},{"c":16,"t":1.08,"p":90},{"c":16,"t":5,"p":84},{"c":16,"t":15,"p":96},{"c":16,"t":30,"p":250},{"c":16,"t":55,"p":3500},{"c":16,"t":90,"p":60000},{"c":16,"t":115,"p":100000},
{"c":17,"t":0.0015,"p":1},{"c":17,"t":0.14,"p":18},{"c":17,"t":0.58,"p":68},{"c":17,"t":0.92,"p":90},{"c":17,"t":2,"p":100},{"c":17,"t":3.2,"p":110},{"c":17,"t":6,"p":300},{"c":17,"t":14,"p":1400},{"c":17,"t":25,"p":5000},{"c":17,"t":36,"p":14000},{"c":17,"t":60,"p":45000},{"c":17,"t":95,"p":100000},
{"c":18,"t":0.004,"p":1},{"c":18,"t":0.19,"p":24},{"c":18,"t":0.64,"p":71},{"c":18,"t":0.97,"p":91},{"c":18,"t":2.5,"p":95},{"c":18,"t":5,"p":150},{"c":18,"t":10,"p":600},{"c":18,"t":20,"p":3000},{"c":18,"t":40,"p":20000},{"c":18,"t":70,"p":100000},
{"c":19,"t":0.01,"p":1},{"c":19,"t":0.24,"p":27},{"c":19,"t":0.69,"p":74},{"c":19,"t":1,"p":90},{"c":19,"t":3,"p":92},{"c":19,"t":6,"p":130},{"c":19,"t":12,"p":500},{"c":19,"t":25,"p":3000},{"c":19,"t":50,"p":30000},{"c":19,"t":85,"p":100000}
],
"bb":[
{"c":1,"t":0.03,"p":1},{"c":1,"t":0.4,"p":35},{"c":1,"t":0.8,"p":78},{"c":1,"t":1.05,"p":88},{"c":1,"t":4,"p":70},{"c":1,"t":10,"p":45},{"c":1,"t":18,"p":20},{"c":1,"t":25,"p":6},{"c":1,"t":28,"p":1},
{"c":2,"t":0.07,"p":1},{"c":2,"t":0.45,"p":40},{"c":2,"t":0.85,"p":80},{"c":2,"t":1.1,"p":88},{"c":2,"t":5,"p":72},{"c":2,"t":12,"p":60},{"c":2,"t":20,"p":30},{"c":2,"t":30,"p":12},{"c":2,"t":45,"p":6},{"c":2,"t":55,"p":3}
],
"dash":[{"t":1,"p":226,"p2":1}],
"arrow":[{"t":0.0002,"t2":0.62,"p":88.7}],
"heads":[{"d":"l","t":0.000185,"p":88.7},{"d":"r","t":0.68,"p":88.7}],
"note1":[{"s":"Inoculation Time","t":0.0107,"p":97}],
"note2":[{"s":"Infection","t":79,"p":54000},{"s":"No","t":134,"p":1.73},{"s":"Infection","t":134,"p":1.02}],
"ta":[{"s":"a)","t":0.000144,"p":186000},{"s":"D","t":0.00102,"p":186000},{"s":"=","t":0.0184,"p":186000},{"s":"25,","t":0.104,"p":186000},{"s":"p","t":2.49,"p":186000},{"s":"=","t":54.5,"p":186000},{"s":"0.02","t":309,"p":186000}],
"tas":[{"s":"e","t":0.00433,"p":154000},{"s":"inf","t":6.55,"p":154000}],
"tb":[{"s":"b)","t":0.000131,"p":313000},{"s":"D","t":0.0009,"p":313000},{"s":"=","t":0.01374,"p":313000},{"s":"90,","t":0.0802,"p":313000},{"s":"p","t":2.0,"p":313000},{"s":"=","t":42,"p":313000},{"s":"0.98","t":247,"p":313000}],
"tbs":[{"s":"e","t":0.00324,"p":261000},{"s":"inf","t":5.25,"p":261000}]
},
"layer":[
{"layer":[
 {"data":{"name":"mb"},"mark":{"type":"line","color":"#0000ff","strokeWidth":1},
  "encoding":{
   "x":{"field":"t","type":"quantitative","scale":{"type":"log","domain":[0.0001,800],"range":[160,977],"nice":false},
        "axis":{"orient":"bottom","offset":-87.7,"values":[0.0001,0.01,1,100],"labelExpr":"'10'","labelAlign":"right","labelOffset":4,"ticks":false,"domain":true,"labelFontSize":23,"labelPadding":18,"title":"Time","titleFontSize":34,"titlePadding":8}},
   "y":{"field":"p","type":"quantitative","scale":{"type":"log","domain":[1,100000],"range":[848.3,40],"nice":false},
        "axis":{"orient":"left","offset":-160,"values":[1,10,100,1000,10000,100000],"labelExpr":"'10'","labelAlign":"right","ticks":false,"domain":true,"labelFontSize":23,"labelPadding":14,"title":"Pathogens","titleFontSize":31,"titlePadding":20,"titleY":436}},
   "detail":{"field":"c","type":"nominal"}}},
 {"data":{"name":"mr"},"mark":{"type":"line","color":"#ff0000","strokeWidth":1},
  "encoding":{
   "x":{"field":"t","type":"quantitative","scale":{"type":"log","domain":[0.0001,800],"range":[160,977],"nice":false},
        "axis":{"orient":"top","offset":-40,"values":[0.0001,0.01,1,100],"labels":false,"tickSize":-8,"domain":true,"title":null}},
   "y":{"field":"p","type":"quantitative","scale":{"type":"log","domain":[1,100000],"range":[848.3,40],"nice":false},
        "axis":{"orient":"right","offset":-88,"values":[1,10,100,1000,10000,100000],"labels":false,"tickSize":-8,"domain":true,"title":null}},
   "detail":{"field":"c","type":"nominal"}}},
 {"data":{"name":"dash"},"mark":{"type":"rule","color":"#000","strokeWidth":4,"strokeDash":[20,9]},
  "encoding":{
   "x":{"field":"t","type":"quantitative","scale":{"type":"log","domain":[0.0001,800],"range":[160,977],"nice":false},
        "axis":{"orient":"bottom","offset":-87.7,"values":[0.0001,0.01,1,100],"labels":false,"tickSize":-8,"domain":false,"title":null}},
   "y":{"field":"p","type":"quantitative","scale":{"type":"log","domain":[1,100000],"range":[848.3,40],"nice":false},
        "axis":{"orient":"left","offset":-160,"values":[1,10,100,1000,10000,100000],"labels":false,"tickSize":-8,"domain":false,"title":null}},
   "y2":{"field":"p2"}}},
 {"data":{"name":"arrow"},"mark":{"type":"rule","color":"#222","strokeWidth":1.5},
  "encoding":{
   "x":{"field":"t","type":"quantitative","scale":{"type":"log","domain":[0.0001,800],"range":[160,977],"nice":false},
        "axis":{"orient":"bottom","offset":-87.7,"values":[0.0001,0.01,1,100],"labelExpr":"'' + round(log(datum.value)/LN10)","labelAlign":"left","labelOffset":4,"ticks":false,"domain":false,"labelFontSize":16,"labelPadding":8,"title":null}},
   "x2":{"field":"t2"},
   "y":{"field":"p","type":"quantitative","scale":{"type":"log","domain":[1,100000],"range":[848.3,40],"nice":false},
        "axis":{"orient":"left","offset":-160,"values":[2,3,4,5,6,7,8,9,20,30,40,50,60,70,80,90,200,300,400,500,600,700,800,900,2000,3000,4000,5000,6000,7000,8000,9000,20000,30000,40000,50000,60000,70000,80000,90000],"labels":false,"tickSize":-4,"domain":false,"title":null}}}},
 {"data":{"name":"heads"},"mark":{"type":"point","filled":true,"size":361,"color":"#222","opacity":1},
  "encoding":{
   "x":{"field":"t","type":"quantitative","scale":{"type":"log","domain":[0.0001,800],"range":[160,977],"nice":false},"axis":null},
   "y":{"field":"p","type":"quantitative","scale":{"type":"log","domain":[1,100000],"range":[848.3,40],"nice":false},
        "axis":{"orient":"right","offset":-88,"values":[2,3,4,5,6,7,8,9,20,30,40,50,60,70,80,90,200,300,400,500,600,700,800,900,2000,3000,4000,5000,6000,7000,8000,9000,20000,30000,40000,50000,60000,70000,80000,90000],"labels":false,"tickSize":-4,"domain":false,"title":null}},
   "shape":{"field":"d","type":"nominal","scale":{"domain":["l","r"],"range":["M-1,0L1,-0.68L0.5,0L1,0.68Z","M1,0L-1,-0.68L-0.5,0L-1,0.68Z"]},"legend":null}}},
 {"data":{"name":"note1"},"mark":{"type":"text","align":"center","baseline":"alphabetic","fontSize":31,"font":"Liberation Sans, Arial, sans-serif","color":"#111"},
  "encoding":{
   "x":{"field":"t","type":"quantitative","scale":{"type":"log","domain":[0.0001,800],"range":[160,977],"nice":false},"axis":null},
   "y":{"field":"p","type":"quantitative","scale":{"type":"log","domain":[1,100000],"range":[848.3,40],"nice":false},
        "axis":{"orient":"left","offset":-160,"values":[1,10,100,1000,10000,100000],"labelExpr":"'' + round(log(datum.value)/LN10)","labelAlign":"left","labelOffset":-9,"ticks":false,"domain":false,"labelFontSize":16,"labelPadding":14,"title":null}},
   "text":{"field":"s"}}},
 {"data":{"name":"note2"},"mark":{"type":"text","align":"left","baseline":"alphabetic","fontSize":30,"font":"Liberation Sans, Arial, sans-serif","color":"#111"},
  "encoding":{
   "x":{"field":"t","type":"quantitative","scale":{"type":"log","domain":[0.0001,800],"range":[160,977],"nice":false},"axis":null},
   "y":{"field":"p","type":"quantitative","scale":{"type":"log","domain":[1,100000],"range":[848.3,40],"nice":false},"axis":null},
   "text":{"field":"s"}}}
],"resolve":{"axis":{"x":"independent","y":"independent"}}},
{"layer":[
 {"data":{"values":[{"t":0.00001,"t2":100000,"p":1,"p2":100000}]},"mark":{"type":"rect","filled":false,"color":"#000","strokeWidth":1},
  "encoding":{
   "x":{"field":"t","type":"quantitative","scale":{"type":"log","domain":[0.00001,100000],"range":[214,453],"nice":false},
        "axis":{"orient":"bottom","offset":-556,"values":[0.00001,1,100000],"labelExpr":"'10'","labelAlign":"right","labelOffset":4,"ticks":false,"domain":false,"labelFont":"Liberation Sans, Arial, sans-serif","labelFontSize":15,"labelPadding":8,"title":"time","titleFont":"Liberation Sans, Arial, sans-serif","titleFontSize":17,"titlePadding":6}},
   "x2":{"field":"t2"},
   "y":{"field":"p","type":"quantitative","scale":{"type":"log","domain":[1,100000],"range":[380,128],"nice":false},
        "axis":{"orient":"left","offset":-214,"values":[1,100000],"labelExpr":"'10'","labelAlign":"right","ticks":false,"domain":false,"labelFont":"Liberation Sans, Arial, sans-serif","labelFontSize":15,"labelPadding":13,"title":null}},
   "y2":{"field":"p2"}}},
 {"data":{"name":"ab"},"mark":{"type":"line","color":"#0000ff","strokeWidth":1},
  "encoding":{
   "x":{"field":"t","type":"quantitative","scale":{"type":"log","domain":[0.00001,100000],"range":[214,453],"nice":false},
        "axis":{"orient":"bottom","offset":-556,"values":[0.00001,1,100000],"labels":false,"tickSize":-4,"domain":false,"title":null}},
   "y":{"field":"p","type":"quantitative","scale":{"type":"log","domain":[1,100000],"range":[380,128],"nice":false},"axis":null},
   "detail":{"field":"c","type":"nominal"}}},
 {"data":{"name":"ar"},"mark":{"type":"line","color":"#ff0000","strokeWidth":1},
  "encoding":{
   "x":{"field":"t","type":"quantitative","scale":{"type":"log","domain":[0.00001,100000],"range":[214,453],"nice":false},
        "axis":{"orient":"top","offset":-128,"values":[1],"labels":false,"tickSize":-4,"domain":false,"title":null}},
   "y":{"field":"p","type":"quantitative","scale":{"type":"log","domain":[1,100000],"range":[380,128],"nice":false},"axis":null},
   "detail":{"field":"c","type":"nominal"}}},
 {"data":{"name":"ta"},"mark":{"type":"text","align":"left","baseline":"alphabetic","fontSize":17,"font":"Liberation Sans, Arial, sans-serif","color":"#000"},
  "encoding":{
   "x":{"field":"t","type":"quantitative","scale":{"type":"log","domain":[0.00001,100000],"range":[214,453],"nice":false},
        "axis":{"orient":"bottom","offset":-556,"values":[0.00001,1,100000],"labelExpr":"'' + round(log(datum.value)/LN10)","labelAlign":"left","labelOffset":4,"ticks":false,"domain":false,"labelFont":"Liberation Sans, Arial, sans-serif","labelFontSize":10,"labelPadding":3,"title":null}},
   "y":{"field":"p","type":"quantitative","scale":{"type":"log","domain":[1,100000],"range":[380,128],"nice":false},
        "axis":{"orient":"left","offset":-214,"values":[1,100000],"labelExpr":"'' + round(log(datum.value)/LN10)","labelAlign":"left","labelOffset":-6,"ticks":false,"domain":false,"labelFont":"Liberation Sans, Arial, sans-serif","labelFontSize":10,"labelPadding":13,"title":null}},
   "text":{"field":"s"}}},
 {"data":{"name":"tas"},"mark":{"type":"text","align":"left","baseline":"alphabetic","fontSize":11,"font":"Liberation Sans, Arial, sans-serif","color":"#000"},
  "encoding":{
   "x":{"field":"t","type":"quantitative","scale":{"type":"log","domain":[0.00001,100000],"range":[214,453],"nice":false},"axis":null},
   "y":{"field":"p","type":"quantitative","scale":{"type":"log","domain":[1,100000],"range":[380,128],"nice":false},"axis":null},
   "text":{"field":"s"}}}
],"resolve":{"axis":{"x":"independent","y":"independent"}}},
{"layer":[
 {"data":{"values":[{"t":0.00001,"t2":100000,"p":1,"p2":100000}]},"mark":{"type":"rect","filled":false,"color":"#000","strokeWidth":1},
  "encoding":{
   "x":{"field":"t","type":"quantitative","scale":{"type":"log","domain":[0.00001,100000],"range":[530,769],"nice":false},
        "axis":{"orient":"bottom","offset":-559,"values":[0.00001,1,100000],"labelExpr":"'10'","labelAlign":"right","labelOffset":4,"ticks":false,"domain":false,"labelFont":"Liberation Sans, Arial, sans-serif","labelFontSize":15,"labelPadding":8,"title":"time","titleFont":"Liberation Sans, Arial, sans-serif","titleFontSize":17,"titlePadding":6}},
   "x2":{"field":"t2"},
   "y":{"field":"p","type":"quantitative","scale":{"type":"log","domain":[1,100000],"range":[377,125],"nice":false},
        "axis":{"orient":"left","offset":-530,"values":[1,100000],"labelExpr":"'10'","labelAlign":"right","ticks":false,"domain":false,"labelFont":"Liberation Sans, Arial, sans-serif","labelFontSize":15,"labelPadding":13,"title":null}},
   "y2":{"field":"p2"}}},
 {"data":{"name":"bb"},"mark":{"type":"line","color":"#0000ff","strokeWidth":1},
  "encoding":{
   "x":{"field":"t","type":"quantitative","scale":{"type":"log","domain":[0.00001,100000],"range":[530,769],"nice":false},
        "axis":{"orient":"bottom","offset":-559,"values":[0.00001,1,100000],"labels":false,"tickSize":-4,"domain":false,"title":null}},
   "y":{"field":"p","type":"quantitative","scale":{"type":"log","domain":[1,100000],"range":[377,125],"nice":false},"axis":null},
   "detail":{"field":"c","type":"nominal"}}},
 {"data":{"name":"br"},"mark":{"type":"line","color":"#ff0000","strokeWidth":1},
  "encoding":{
   "x":{"field":"t","type":"quantitative","scale":{"type":"log","domain":[0.00001,100000],"range":[530,769],"nice":false},
        "axis":{"orient":"top","offset":-125,"values":[1],"labels":false,"tickSize":-4,"domain":false,"title":null}},
   "y":{"field":"p","type":"quantitative","scale":{"type":"log","domain":[1,100000],"range":[377,125],"nice":false},"axis":null},
   "detail":{"field":"c","type":"nominal"}}},
 {"data":{"name":"tb"},"mark":{"type":"text","align":"left","baseline":"alphabetic","fontSize":17,"font":"Liberation Sans, Arial, sans-serif","color":"#000"},
  "encoding":{
   "x":{"field":"t","type":"quantitative","scale":{"type":"log","domain":[0.00001,100000],"range":[530,769],"nice":false},
        "axis":{"orient":"bottom","offset":-559,"values":[0.00001,1,100000],"labelExpr":"'' + round(log(datum.value)/LN10)","labelAlign":"left","labelOffset":4,"ticks":false,"domain":false,"labelFont":"Liberation Sans, Arial, sans-serif","labelFontSize":10,"labelPadding":3,"title":null}},
   "y":{"field":"p","type":"quantitative","scale":{"type":"log","domain":[1,100000],"range":[377,125],"nice":false},
        "axis":{"orient":"left","offset":-530,"values":[1,100000],"labelExpr":"'' + round(log(datum.value)/LN10)","labelAlign":"left","labelOffset":-6,"ticks":false,"domain":false,"labelFont":"Liberation Sans, Arial, sans-serif","labelFontSize":10,"labelPadding":13,"title":null}},
   "text":{"field":"s"}}},
 {"data":{"name":"tbs"},"mark":{"type":"text","align":"left","baseline":"alphabetic","fontSize":11,"font":"Liberation Sans, Arial, sans-serif","color":"#000"},
  "encoding":{
   "x":{"field":"t","type":"quantitative","scale":{"type":"log","domain":[0.00001,100000],"range":[530,769],"nice":false},"axis":null},
   "y":{"field":"p","type":"quantitative","scale":{"type":"log","domain":[1,100000],"range":[377,125],"nice":false},"axis":null},
   "text":{"field":"s"}}}
],"resolve":{"axis":{"x":"independent","y":"independent"}}}
],
"resolve":{"scale":{"x":"independent","y":"independent"},"axis":{"x":"independent","y":"independent"}}
}
